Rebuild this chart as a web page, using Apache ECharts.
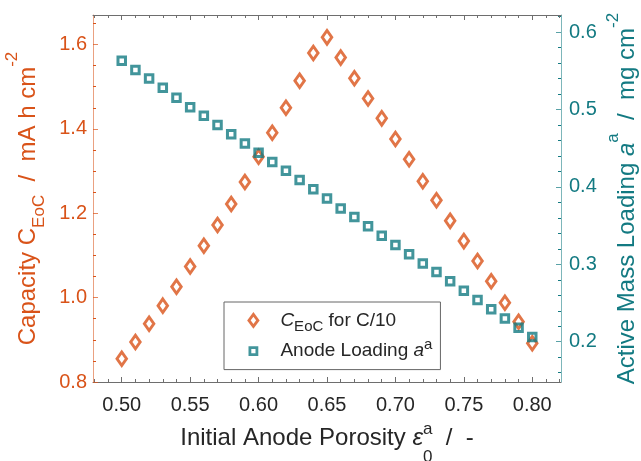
<!DOCTYPE html>
<html><head><meta charset="utf-8">
<script src="https://cdn.jsdelivr.net/npm/echarts@6/dist/echarts.min.js"></script>
<style>html,body{margin:0;padding:0;background:#fff}#c{width:641px;height:461px}</style>
</head><body><div id="c"></div>
<script>
// ---- data ----
const porosity = [0.50,0.51,0.52,0.53,0.54,0.55,0.56,0.57,0.58,0.59,0.60,0.61,0.62,0.63,0.64,0.65,0.66,0.67,0.68,0.69,0.70,0.71,0.72,0.73,0.74,0.75,0.76,0.77,0.78,0.79,0.80];
const capacity = [0.855,0.895,0.938,0.981,1.026,1.074,1.123,1.172,1.222,1.274,1.334,1.391,1.450,1.514,1.580,1.617,1.569,1.520,1.472,1.425,1.376,1.328,1.276,1.231,1.182,1.134,1.087,1.039,0.988,0.943,0.892];
const loading = [0.563,0.551,0.540,0.528,0.515,0.503,0.492,0.480,0.468,0.456,0.444,0.432,0.421,0.409,0.397,0.385,0.372,0.361,0.349,0.337,0.325,0.313,0.301,0.290,0.278,0.266,0.254,0.242,0.230,0.218,0.206];
const xTicks = [0.50,0.55,0.60,0.65,0.70,0.75,0.80];
const xMinor = [0.48,0.49,0.51,0.52,0.53,0.54,0.56,0.57,0.58,0.59,0.61,0.62,0.63,0.64,0.66,0.67,0.68,0.69,0.71,0.72,0.73,0.74,0.76,0.77,0.78,0.79,0.81,0.82];
const yLeftTicks = [0.8,1.0,1.2,1.4,1.6];
const yLeftMinor = [0.85,0.9,0.95,1.05,1.1,1.15,1.25,1.3,1.35,1.45,1.5,1.55,1.65];
const yRightTicks = [0.2,0.3,0.4,0.5,0.6];
const yRightMinor = [0.16,0.18,0.22,0.24,0.26,0.28,0.32,0.34,0.36,0.38,0.42,0.44,0.46,0.48,0.52,0.54,0.56,0.58,0.62];
const seriesNames = ['C_EoC for C/10', 'Anode Loading a^a'];

// ---- style ----
const FONT = '"Liberation Sans", Arial, Helvetica, sans-serif';
const ORANGE = '#D95319', TEAL = '#137A82', DARK = '#262626';
const X_MIN = 0.479, X_MAX = 0.821, YL_MIN = 0.8, YL_MAX = 1.67, YR_MIN = 0.148, YR_MAX = 0.622;

function richFor(color, base, sub, L, supPadTop, subPadBottom) {
  return {
    b: {color, fontSize: base, fontFamily: FONT, lineHeight: L, align: 'left'},
    i: {color, fontSize: base, fontFamily: FONT, lineHeight: L, fontStyle: 'italic', align: 'left'},
    sub: {color, fontSize: sub, fontFamily: FONT, verticalAlign: 'bottom', align: 'left', padding: [0, 0, subPadBottom, 0]},
    sup: {color, fontSize: sub, fontFamily: FONT, verticalAlign: 'top', align: 'left', padding: [supPadTop, 0, 0, 0]},
    supz: {color, fontSize: sub, fontFamily: FONT, verticalAlign: 'top', align: 'left', width: 0.01, padding: [supPadTop, 0, 0, 0]}
  };
}

function minorAxis(pos, min, max, vals, color) {
  return {type: 'value', position: pos, min, max,
    axisLine: {show: false, onZero: false},
    axisTick: {show: true, inside: true, length: 3, customValues: vals, lineStyle: {color, width: 1}},
    axisLabel: {show: false}, splitLine: {show: false}};
}

const chart = echarts.init(document.getElementById('c'), null, {renderer: 'canvas'});
chart.setOption({
  animation: false,
  backgroundColor: '#fff',
  grid: {left: 93, right: 80, top: 15, bottom: 79, containLabel: false, outerBoundsMode: 'none'},
  xAxis: [
    {type: 'value', position: 'bottom', min: X_MIN, max: X_MAX,
     axisLine: {show: true, onZero: false, lineStyle: {color: '#6e6e6e', width: 1}},
     axisTick: {show: true, inside: true, length: 5, customValues: xTicks, lineStyle: {color: '#6e6e6e'}},
     axisLabel: {show: true, customValues: xTicks, formatter: v => v.toFixed(2), color: DARK, fontSize: 20, fontFamily: FONT, margin: 13},
     splitLine: {show: false},
     name: '{b|Initial Anode Porosity }{i|\u03b5}{supz|a}{sub|0}{b|  /  -}',
     nameLocation: 'middle', nameGap: 29, nameMoveOverlap: false,
     nameTextStyle: {color: DARK, fontSize: 24, fontFamily: FONT, rich: richFor(DARK, 24, 17, 55, 9.5, 0)}},
    minorAxis('bottom', X_MIN, X_MAX, xMinor, '#6e6e6e'),
    {type: 'value', position: 'top', min: X_MIN, max: X_MAX,
     axisLine: {show: true, onZero: false, lineStyle: {color: '#6e6e6e', width: 1}},
     axisTick: {show: true, inside: true, length: 5, customValues: xTicks, lineStyle: {color: '#6e6e6e'}},
     axisLabel: {show: false}, splitLine: {show: false}},
    minorAxis('top', X_MIN, X_MAX, xMinor, '#6e6e6e')
  ],
  yAxis: [
    {type: 'value', position: 'left', min: YL_MIN, max: YL_MAX,
     axisLine: {show: true, onZero: false, lineStyle: {color: ORANGE, opacity: 0.55, width: 1}},
     axisTick: {show: true, inside: true, length: 5, customValues: yLeftTicks, lineStyle: {color: ORANGE, opacity: 0.7}},
     axisLabel: {show: true, customValues: yLeftTicks, formatter: v => v.toFixed(1), color: ORANGE, fontSize: 20, fontFamily: FONT, margin: 6},
     splitLine: {show: false},
     name: '{b|Capacity C}{sub|EoC}{b|  /  mA h cm}{sup|-2}',
     nameLocation: 'middle', nameGap: 41, nameMoveOverlap: false,
     nameTextStyle: {color: ORANGE, fontSize: 24, fontFamily: FONT, rich: richFor(ORANGE, 24, 17, 48, 0, 4.5)}},
    {type: 'value', position: 'right', min: YR_MIN, max: YR_MAX,
     axisLine: {show: true, onZero: false, lineStyle: {color: TEAL, opacity: 0.55, width: 1}},
     axisTick: {show: true, inside: true, length: 5, customValues: yRightTicks, lineStyle: {color: TEAL, opacity: 0.7}},
     axisLabel: {show: true, customValues: yRightTicks, formatter: v => v.toFixed(1), color: TEAL, fontSize: 20, fontFamily: FONT, margin: 8},
     splitLine: {show: false},
     name: '{b|Active Mass Loading }{i|a}{sup|a}{b|  /  mg cm}{sup|-2}',
     nameLocation: 'middle', nameGap: 42, nameMoveOverlap: false,
     nameTextStyle: {color: TEAL, fontSize: 24, fontFamily: FONT, rich: richFor(TEAL, 24, 17, 48, 2, 4.5)}},
    minorAxis('left', YL_MIN, YL_MAX, yLeftMinor, ORANGE),
    minorAxis('right', YR_MIN, YR_MAX, yRightMinor, TEAL)
  ],
  legend: {
    show: true, orient: 'vertical', left: 224, top: 302,
    padding: [3, 8, 3, 14], itemWidth: 44, itemHeight: 28, itemGap: 0,
    backgroundColor: '#fff', borderColor: '#666', borderWidth: 1, borderRadius: 0,
    selectedMode: false,
    data: [
      {name: seriesNames[0], icon: 'path://M0,0M28,28M14,8L18.5,14L14,20L9.5,14Z',
       itemStyle: {color: 'rgba(0,0,0,0)', borderColor: ORANGE, borderWidth: 2.8}},
      {name: seriesNames[1], icon: 'path://M0,0M28,28M10.5,10.5L17.5,10.5L17.5,17.5L10.5,17.5Z',
       itemStyle: {color: 'rgba(0,0,0,0)', borderColor: TEAL, borderWidth: 2.8}}
    ],
    formatter: function (name) {
      if (name === seriesNames[0]) return '{i|C}{sub|EoC}{b| for C/10}';
      return '{b|Anode Loading }{i|a}{sup|a}';
    },
    textStyle: {color: DARK, fontSize: 19, fontFamily: FONT, lineHeight: 28, rich: {
      b: {color: DARK, fontSize: 19, fontFamily: FONT, lineHeight: 28},
      i: {color: DARK, fontSize: 19, fontFamily: FONT, lineHeight: 28, fontStyle: 'italic'},
      sub: {color: DARK, fontSize: 15, fontFamily: FONT, lineHeight: 15, verticalAlign: 'bottom'},
      sup: {color: DARK, fontSize: 15, fontFamily: FONT, lineHeight: 15, verticalAlign: 'top'}
    }}
  },
  series: [
    {name: seriesNames[0], type: 'scatter', xAxisIndex: 0, yAxisIndex: 0,
     data: porosity.map((x, i) => [x, capacity[i]]),
     symbol: 'diamond', symbolSize: [9.5, 13.5], silent: true,
     itemStyle: {color: 'rgba(0,0,0,0)', borderColor: ORANGE, borderWidth: 3},
     emphasis: {disabled: true}},
    {name: seriesNames[1], type: 'scatter', xAxisIndex: 0, yAxisIndex: 1,
     data: porosity.map((x, i) => [x, loading[i]]),
     symbol: 'rect', symbolSize: 7.5, silent: true,
     itemStyle: {color: 'rgba(0,0,0,0)', borderColor: TEAL, borderWidth: 3},
     emphasis: {disabled: true}}
  ]
});
</script>
</body></html>
